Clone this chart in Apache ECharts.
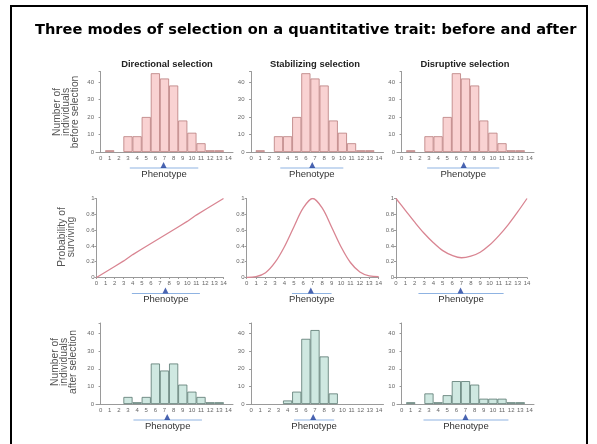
<!DOCTYPE html>
<html><head><meta charset="utf-8">
<script src="https://cdn.jsdelivr.net/npm/echarts@6/dist/echarts.min.js"></script>
<style>html,body{margin:0;padding:0;background:#fff}#c{width:597px;height:444px}</style>
</head><body><div id="c"></div>
<script>
// ---- data ----
const mainTitle = 'Three modes of selection on a quantitative trait: before and after';
const panelTitles = ['Directional selection', 'Stabilizing selection', 'Disruptive selection'];
const phenotypes = ['0','1','2','3','4','5','6','7','8','9','10','11','12','13','14'];
const countTicks = [0, 10, 20, 30, 40];
const probTicks = [0, 0.2, 0.4, 0.6, 0.8, 1];
const beforeCounts = [0, 1, 0, 9, 9, 20, 45, 42, 38, 18, 11, 5, 1, 1, 0];
const afterDirectional = [0, 0, 0, 4, 1, 4, 23, 19, 23, 11, 7, 4, 1, 1, 0];
const afterStabilizing = [0, 0, 0, 0, 2, 7, 37, 42, 27, 6, 0, 0, 0, 0, 0];
const afterDisruptive = [0, 1, 0, 6, 1, 5, 13, 13, 11, 3, 3, 3, 1, 1, 0];
const survivalX = [0, 1, 2, 3, 4, 5, 6, 7, 8, 9, 10, 11, 12, 13, 14];
const survivalDirectional = [0, 0.07, 0.14, 0.21, 0.29, 0.36, 0.43, 0.5, 0.57, 0.64, 0.71, 0.79, 0.86, 0.93, 1];
const survivalStabilizing = [0, 0.01, 0.06, 0.19, 0.39, 0.64, 0.88, 1, 0.88, 0.64, 0.39, 0.19, 0.07, 0.02, 0.01];
const survivalDisruptive = [1, 0.85, 0.7, 0.56, 0.44, 0.34, 0.28, 0.25, 0.27, 0.32, 0.41, 0.53, 0.67, 0.83, 1];
const meanBefore = [6.9, 6.7, 6.8];
const meanSurvival = [7.6, 6.8, 6.9];
const meanAfter = [7.3, 6.8, 7.0];
const spreadBefore = [[3.2, 10.7], [3.2, 10.1], [2.8, 10.7]];
const spreadSurvival = [[3.9, 11.4], [4.8, 9.0], [2.4, 11.5]];
const spreadAfter = [[3.6, 11.1], [4.7, 9.1], [2.4, 11.7]];
const yNames = ['Number of\nindividuals\nbefore selection', 'Probability of\nsurviving', 'Number of\nindividuals\nafter selection'];
const xName = 'Phenotype';

// ---- layout / style ----
const FONT = '"Liberation Sans", Arial, sans-serif';
const colLeft = [96, 246.5, 397];
const histW = 137;
const curveLeft = [96.5, 246.7, 396];
const curveW = [127, 132, 131];
const rowTop = [71.5, 198.5, 323];
const rowH = [80.5, 79, 81];
const PINK = '#f9d2d2', PINK_B = '#b97c7c';
const TEAL = '#cfe8e1', TEAL_B = '#58766e';
const CURVE = '#d98592';
const AXIS = '#9a9a9a';
const LBL = '#666';

const chart = echarts.init(document.getElementById('c'), null, {renderer: 'canvas'});
const grids = [], xAxes = [], yAxes = [], series = [];
const panelInfo = [];
const afterSets = [afterDirectional, afterStabilizing, afterDisruptive];
const survSets = [survivalDirectional, survivalStabilizing, survivalDisruptive];

function yAxisCommon(gi) {
  return {
    gridIndex: gi, type: 'value',
    axisLine: {show: true, lineStyle: {color: AXIS, width: 1}},
    axisTick: {show: true, length: 2, lineStyle: {color: AXIS}},
    splitLine: {show: false},
    axisLabel: {fontSize: 6, color: LBL, fontFamily: FONT, margin: 2}
  };
}
for (let r = 0; r < 3; r++) {
  for (let c = 0; c < 3; c++) {
    const gi = grids.length;
    const isHist = r !== 1;
    grids.push({left: isHist ? colLeft[c] : curveLeft[c], top: rowTop[r],
      width: isHist ? histW : curveW[c], height: rowH[r], outerBoundsMode: 'none', containLabel: false});
    const ya = yAxes.length;
    if (isHist) {
      yAxes.push(Object.assign(yAxisCommon(gi), {min: 0, max: 46, interval: 10,
        axisLabel: {fontSize: 6, color: LBL, fontFamily: FONT, margin: 2,
          formatter: v => countTicks.includes(v) ? String(v) : ''}}));
      const xc = xAxes.length;
      xAxes.push({gridIndex: gi, type: 'category', data: phenotypes, boundaryGap: true,
        axisLine: {show: true, lineStyle: {color: AXIS}}, axisTick: {show: false},
        axisLabel: {interval: 0, fontSize: 6, color: LBL, fontFamily: FONT, margin: 3}});
      const xv = xAxes.length;
      xAxes.push({gridIndex: gi, type: 'value', min: -0.5, max: 14.5, show: false});
      const vals = r === 0 ? beforeCounts : afterSets[c];
      series.push({type: 'bar', xAxisIndex: xc, yAxisIndex: ya, barCategoryGap: '0%',
        data: vals.map(v => v === 0 ? null : v), silent: true,
        itemStyle: {color: r === 0 ? PINK : TEAL, borderColor: r === 0 ? PINK_B : TEAL_B, borderWidth: 0.8}});
      const mean = r === 0 ? meanBefore[c] : meanAfter[c];
      series.push({type: 'scatter', xAxisIndex: xv, yAxisIndex: ya, data: [[mean, 0]],
        symbol: 'triangle', symbolSize: [6, 6], symbolOffset: [0, 13], clip: false,
        itemStyle: {color: '#1c3c9c'}, z: 5});
      panelInfo.push({xv, ya, spread: r === 0 ? spreadBefore[c] : spreadAfter[c]});
    } else {
      yAxes.push(Object.assign(yAxisCommon(gi), {min: 0, max: 1, interval: 0.2}));
      const xv = xAxes.length;
      xAxes.push({gridIndex: gi, type: 'value', min: 0, max: 14, interval: 1,
        axisLine: {show: true, lineStyle: {color: AXIS}}, axisTick: {show: true, length: 1.5, lineStyle: {color: AXIS}},
        splitLine: {show: false},
        axisLabel: {fontSize: 6, color: LBL, fontFamily: FONT, margin: 3}});
      series.push({type: 'line', xAxisIndex: xv, yAxisIndex: ya, smooth: c === 0 ? false : 0.35,
        showSymbol: false, data: survivalX.map((x, i) => [x, survSets[c][i]]),
        lineStyle: {color: CURVE, width: 1.3}, silent: true});
      series.push({type: 'scatter', xAxisIndex: xv, yAxisIndex: ya, data: [[meanSurvival[c], 0]],
        symbol: 'triangle', symbolSize: [6, 6], symbolOffset: [0, 13], clip: false,
        itemStyle: {color: '#1c3c9c'}, z: 5});
      panelInfo.push({xv, ya, spread: spreadSurvival[c]});
    }
  }
}

const graphic = [
  {type: 'rect', shape: {x: 11, y: 6, width: 576, height: 470}, style: {fill: 'none', stroke: '#000', lineWidth: 2}, silent: true},
];
const titleCenters = [167, 315, 465];
panelTitles.forEach((t, c) => graphic.push({type: 'text', x: titleCenters[c], y: 64,
  style: {text: t, font: 'bold 9.4px ' + FONT, fill: '#222', align: 'center', verticalAlign: 'middle'}}));
const yNameY = [112, 237, 362];
const yNameX = [66, 67, 64];
yNames.forEach((t, r) => graphic.push({type: 'text', x: yNameX[r], y: yNameY[r], rotation: Math.PI / 2,
  style: {text: t, font: '10.3px ' + FONT, fill: '#555', align: 'center', verticalAlign: 'middle', lineHeight: 8.7}}));

chart.setOption({
  animation: false,
  title: {text: mainTitle, left: 30, top: 18,
    textStyle: {fontFamily: '"Comic Sans MS", "DejaVu Sans", sans-serif', fontWeight: 'bold', fontSize: 14.6, color: '#000'}},
  grid: grids, xAxis: xAxes, yAxis: yAxes, series: series, graphic: graphic
});

// underlines and axis names placed through the axes' own scales
const extra = graphic.slice();
panelInfo.forEach(p => {
  const x1 = chart.convertToPixel({xAxisIndex: p.xv}, p.spread[0]);
  const x2 = chart.convertToPixel({xAxisIndex: p.xv}, p.spread[1]);
  const y0 = chart.convertToPixel({yAxisIndex: p.ya}, 0);
  extra.push({type: 'line', shape: {x1, y1: y0 + 16, x2, y2: y0 + 16}, style: {stroke: '#8fb3e2', lineWidth: 1}, silent: true});
  extra.push({type: 'text', x: (x1 + x2) / 2, y: y0 + 22,
    style: {text: xName, font: '9.5px ' + FONT, fill: '#333', align: 'center', verticalAlign: 'middle'}});
});
chart.setOption({graphic: extra});
</script></body></html>
